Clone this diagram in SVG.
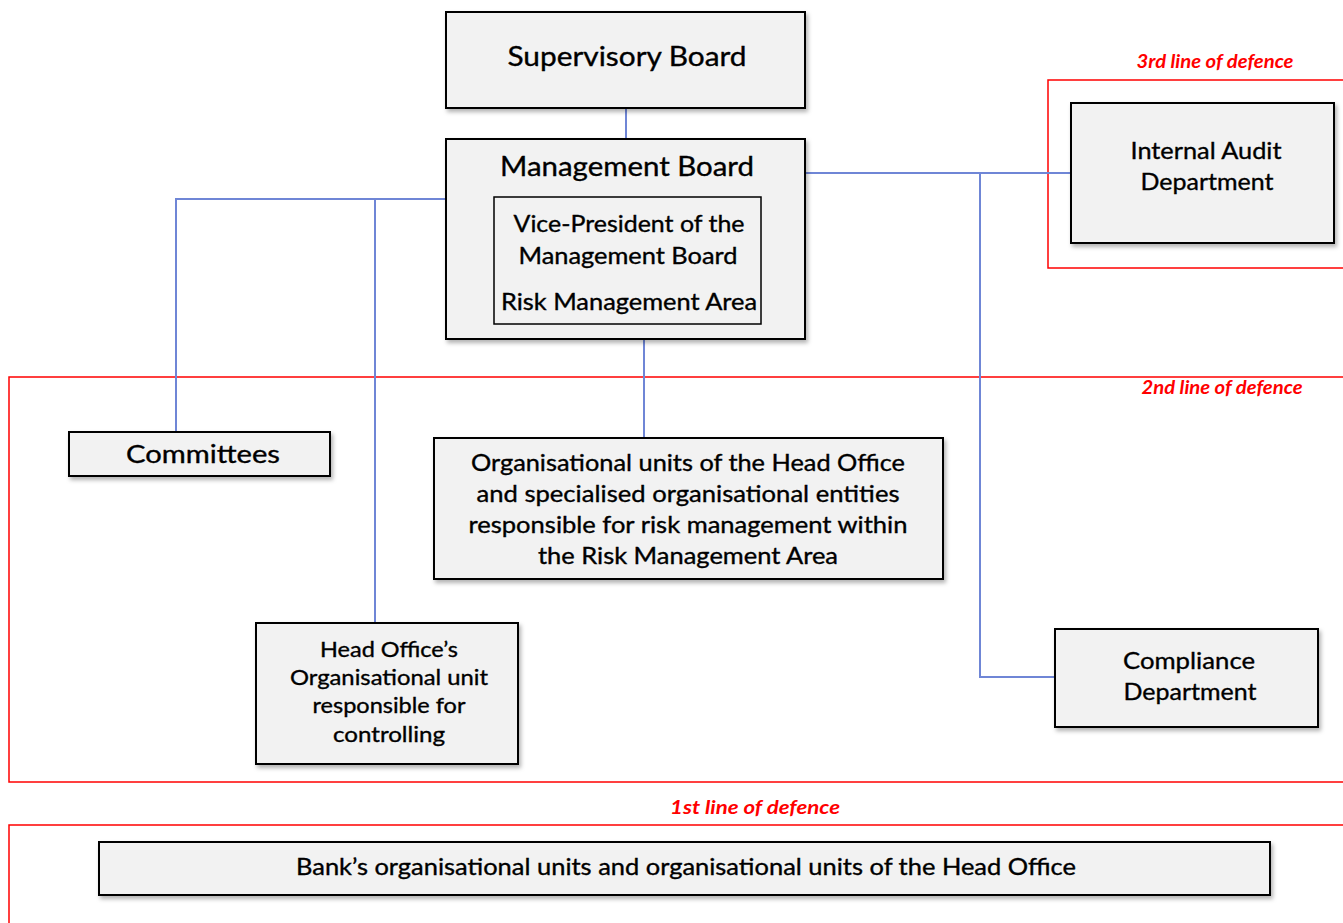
<svg xmlns="http://www.w3.org/2000/svg" width="1343" height="923" viewBox="0 0 1343 923">
<defs>
<filter id="sh" x="-5%" y="-10%" width="115%" height="130%">
<feDropShadow dx="2" dy="3" stdDeviation="2" flood-color="#000" flood-opacity="0.3"/>
</filter>
<style>
.box{fill:#f2f2f2;stroke:#000;stroke-width:2;filter:url(#sh)}
.inner{fill:#f2f2f2;stroke:#000;stroke-width:1.5}
.t{font-family:Lato,"Open Sans",sans-serif;fill:#000;stroke:#000;stroke-width:0.35;text-anchor:middle}
.zone{fill:none;stroke:#ff0000;stroke-width:1.5}
.lbl{font-family:Lato,"Liberation Sans",sans-serif;font-style:italic;font-weight:bold;fill:#ff0000;font-size:19px;text-anchor:middle}
.c{fill:none;stroke:#6f86d6;stroke-width:2}
</style>
</defs>
<rect width="1343" height="923" fill="#fff"/>
<g id="zones">
<rect class="zone" x="1048" y="80" width="300" height="188"/>
<text class="lbl" x="1215" y="68" textLength="157" lengthAdjust="spacingAndGlyphs">3rd line of defence</text>
<rect class="zone" x="9" y="377" width="1340" height="405"/>
<text class="lbl" x="1222" y="394" textLength="161" lengthAdjust="spacingAndGlyphs">2nd line of defence</text>
<rect class="zone" x="9" y="825" width="1340" height="110"/>
<text class="lbl" x="755" y="814" textLength="170" lengthAdjust="spacingAndGlyphs">1st line of defence</text>
</g>
<g id="connectors">
<path class="c" d="M626,108 V139"/>
<path class="c" d="M446,199 H176 V432"/>
<path class="c" d="M375,199 V622"/>
<path class="c" d="M644,324 V437"/>
<path class="c" d="M805,173 H1070"/>
<path class="c" d="M980,173 V677 H1055"/>
</g>
<g id="supervisory-board">
<rect class="box" x="446" y="12" width="359" height="96"/>
<text class="t" x="627" y="66" font-size="27" textLength="239" lengthAdjust="spacingAndGlyphs">Supervisory Board</text>
</g>
<g id="management-board">
<rect class="box" x="446" y="139" width="359" height="200"/>
<text class="t" x="627" y="176" font-size="27" textLength="254" lengthAdjust="spacingAndGlyphs">Management Board</text>
<rect class="inner" x="494" y="197" width="267" height="127"/>
<text class="t" x="629" y="232" font-size="23" textLength="231" lengthAdjust="spacingAndGlyphs">Vice-President of the</text>
<text class="t" x="628" y="264" font-size="23" textLength="219" lengthAdjust="spacingAndGlyphs">Management Board</text>
<text class="t" x="629" y="310" font-size="23" textLength="256" lengthAdjust="spacingAndGlyphs">Risk Management Area</text>
</g>
<g id="internal-audit">
<rect class="box" x="1071" y="103" width="263" height="140"/>
<text class="t" x="1206" y="159" font-size="24" textLength="151" lengthAdjust="spacingAndGlyphs">Internal Audit</text>
<text class="t" x="1207" y="190" font-size="24" textLength="133" lengthAdjust="spacingAndGlyphs">Department</text>
</g>
<g id="committees">
<rect class="box" x="69" y="432" width="261" height="44"/>
<text class="t" x="203" y="463" font-size="25" textLength="154" lengthAdjust="spacingAndGlyphs">Committees</text>
</g>
<g id="org-units">
<rect class="box" x="434" y="438" width="509" height="141"/>
<text class="t" x="688" y="471" font-size="23" textLength="434" lengthAdjust="spacingAndGlyphs">Organisational units of the Head Office</text>
<text class="t" x="688" y="502" font-size="23" textLength="423" lengthAdjust="spacingAndGlyphs">and specialised organisational entities</text>
<text class="t" x="688" y="533" font-size="23" textLength="439" lengthAdjust="spacingAndGlyphs">responsible for risk management within</text>
<text class="t" x="688" y="564" font-size="23" textLength="300" lengthAdjust="spacingAndGlyphs">the Risk Management Area</text>
</g>
<g id="head-office-controlling">
<rect class="box" x="256" y="623" width="262" height="141"/>
<text class="t" x="389" y="657" font-size="21" textLength="138" lengthAdjust="spacingAndGlyphs">Head Office’s</text>
<text class="t" x="389" y="685" font-size="21" textLength="198" lengthAdjust="spacingAndGlyphs">Organisational unit</text>
<text class="t" x="389" y="713" font-size="21" textLength="153" lengthAdjust="spacingAndGlyphs">responsible for</text>
<text class="t" x="389" y="742" font-size="21" textLength="112" lengthAdjust="spacingAndGlyphs">controlling</text>
</g>
<g id="compliance">
<rect class="box" x="1055" y="629" width="263" height="98"/>
<text class="t" x="1189" y="669" font-size="24" textLength="132" lengthAdjust="spacingAndGlyphs">Compliance</text>
<text class="t" x="1190" y="700" font-size="24" textLength="133" lengthAdjust="spacingAndGlyphs">Department</text>
</g>
<g id="bank-units">
<rect class="box" x="99" y="842" width="1171" height="53"/>
<text class="t" x="686" y="875" font-size="23" textLength="780" lengthAdjust="spacingAndGlyphs">Bank’s organisational units and organisational units of the Head Office</text>
</g>
</svg>
